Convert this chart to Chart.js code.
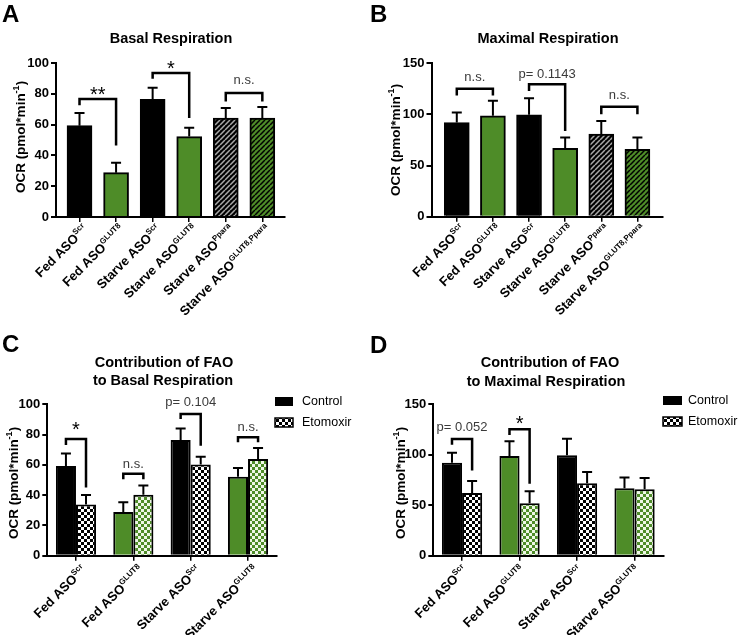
<!DOCTYPE html>
<html>
<head>
<meta charset="utf-8">
<script src="https://cdn.jsdelivr.net/npm/chart.js@4.4.0/dist/chart.umd.min.js"></script>
<style>
  body { margin: 0; background: #fff; width: 739px; height: 635px; position: relative; overflow: hidden; }
  .panel { position: absolute; }
  canvas { display: block; }
</style>
</head>
<body>
<div class="panel" style="left:0;top:0"><canvas id="cA" width="370" height="320"></canvas></div>
<div class="panel" style="left:370px;top:0"><canvas id="cB" width="369" height="320"></canvas></div>
<div class="panel" style="left:0;top:320px"><canvas id="cC" width="370" height="315"></canvas></div>
<div class="panel" style="left:370px;top:320px"><canvas id="cD" width="369" height="315"></canvas></div>
<script>
const FONT = '"Liberation Sans", Arial, sans-serif';
const GREEN = '#4e8c28';

// categories: [main text, superscript]
const sixLabels = [["Fed ASO", "Scr"], ["Fed ASO", "GLUT8"], ["Starve ASO", "Scr"],
                   ["Starve ASO", "GLUT8"], ["Starve ASO", "Ppara"], ["Starve ASO", "GLUT8,Ppara"]];
const fourLabels = sixLabels.slice(0, 4);

// means and SEM
const basalMean = [59.3, 28.8, 76.4, 52.2, 64.2, 64.2];
const basalSem  = [8.2, 6.5, 7.6, 5.8, 6.6, 7.2];
const maxMean   = [92.0, 98.7, 99.6, 66.8, 80.8, 65.8];
const maxSem    = [10.0, 14.6, 16.3, 10.6, 12.8, 11.6];
const etoBasalMean = [33.8, 40.2, 60.3, 63.8];
const etoBasalSem  = [6.3, 6.2, 5.0, 7.4];
const etoMaxMean   = [62.0, 52.0, 71.8, 65.8];
const etoMaxSem    = [12.0, 11.8, 11.1, 11.2];

// significance brackets: [left bar, right bar, top, left leg end, right leg end, text, text y]
const basalSig = [[0, 1, 76.6, 72.5, 46.5, "**", 82.7], [2, 3, 93.5, 89.8, 64.3, "*", 100],
                  [4, 5, 80.5, 75, 75, "n.s.", 89]];
const maxSig = [[0, 1, 125.2, 118.4, 118.4, "n.s.", 136], [2, 3, 129.4, 122.9, 83.8, "p= 0.1143", 139.5],
                [4, 5, 107.6, 100.1, 100.1, "n.s.", 118.4]];
// grouped panels: [group, top, control leg end, etomoxir leg end, text, text y]
const etoBasalSig = [[0, 77.1, 73.2, 45, "*", 86.4], [1, 54.1, 50.5, 50.5, "n.s.", 60],
                     [2, 93.6, 90.3, 72.7, "p= 0.104", 101.3], [3, 78.2, 74.9, 74.9, "n.s.", 84.8]];
const etoMaxSig = [[0, 115.5, 109.9, 84.5, "p= 0.052", 126.6], [1, 125.3, 119.7, 71.4, "*", 136.2]];

// fill patterns
function tile(size, draw) {
  const c = document.createElement('canvas');
  c.width = c.height = size;
  const g = c.getContext('2d');
  draw(g, size);
  return g.createPattern(c, 'repeat');
}
function hatch(bg, fg) {
  return tile(5, (g, s) => {
    g.fillStyle = bg; g.fillRect(0, 0, s, s);
    g.strokeStyle = fg; g.lineWidth = 1.5;
    g.beginPath();
    for (const o of [-s, 0, s]) { g.moveTo(o, s); g.lineTo(o + s, 0); }
    g.stroke();
  });
}
function checker(a, b) {
  return tile(6, (g, s) => {
    g.fillStyle = a; g.fillRect(0, 0, s, s);
    g.fillStyle = b; g.fillRect(0, 0, 3, 3); g.fillRect(3, 3, 3, 3);
  });
}

// text with superscripts: parts = [[text, isSup], ...]
function drawParts(ctx, parts, x, y, align, size, supSize) {
  const fonts = parts.map(p => 'bold ' + (p[1] ? supSize : size) + 'px ' + FONT);
  let total = 0;
  const ws = parts.map((p, k) => { ctx.font = fonts[k]; const w = ctx.measureText(p[0]).width; total += w; return w; });
  let cx = align === 'right' ? x - total : align === 'center' ? x - total / 2 : x;
  ctx.textAlign = 'left';
  ctx.textBaseline = 'alphabetic';
  parts.forEach((p, k) => {
    ctx.font = fonts[k];
    ctx.fillText(p[0], cx, p[1] ? y - size * 0.42 : y);
    cx += ws[k];
  });
}

function makeDecor(cfg) {
  return {
    id: 'decor',
    afterDatasetsDraw(chart) {
      const ctx = chart.ctx, y = chart.scales.y, area = chart.chartArea;
      ctx.save();
      ctx.strokeStyle = '#000';
      ctx.fillStyle = '#000';

      // error bars (upper only)
      ctx.lineWidth = 2;
      cfg.means.forEach((means, d) => {
        chart.getDatasetMeta(d).data.forEach((el, i) => {
          const top = y.getPixelForValue(means[i] + cfg.errs[d][i]);
          ctx.beginPath();
          ctx.moveTo(el.x, el.y); ctx.lineTo(el.x, top);
          ctx.moveTo(el.x - 5, top); ctx.lineTo(el.x + 5, top);
          ctx.stroke();
        });
      });

      // significance brackets
      ctx.lineWidth = 2.5;
      ctx.lineJoin = 'miter';
      cfg.sig.forEach(s => {
        const a = chart.getDatasetMeta(s.a[0]).data[s.a[1]];
        const b = chart.getDatasetMeta(s.b[0]).data[s.b[1]];
        const top = y.getPixelForValue(s.top);
        ctx.beginPath();
        ctx.moveTo(a.x, y.getPixelForValue(s.l));
        ctx.lineTo(a.x, top);
        ctx.lineTo(b.x, top);
        ctx.lineTo(b.x, y.getPixelForValue(s.r));
        ctx.stroke();
        const tx = (a.x + b.x) / 2, ty = y.getPixelForValue(s.ty);
        ctx.textAlign = 'center';
        if (s.text.indexOf('*') >= 0) {
          ctx.font = '20px ' + FONT;
          ctx.fillStyle = '#000';
          ctx.textBaseline = 'alphabetic';
          ctx.fillText(s.text, tx, ty + 20 * 0.58);
        } else {
          ctx.font = '13px ' + FONT;
          ctx.fillStyle = '#3a3a3a';
          ctx.textBaseline = 'middle';
          ctx.fillText(s.text, tx, ty);
        }
      });

      // rotated category labels
      ctx.fillStyle = '#000';
      const meta0 = chart.getDatasetMeta(0);
      cfg.labels.forEach((lab, i) => {
        const cx = cfg.grouped ? chart.scales.x.getPixelForValue(i) : meta0.data[i].x;
        ctx.save();
        ctx.translate(cx + cfg.labDx, area.bottom + cfg.labDy);
        ctx.rotate(-Math.PI / 4);
        drawParts(ctx, [[lab[0], false], [lab[1], true]], 0, 0, 'right', 13, 8);
        ctx.restore();
      });

      // y axis title
      ctx.save();
      ctx.translate(cfg.yTitle[0], cfg.yTitle[1]);
      ctx.rotate(-Math.PI / 2);
      drawParts(ctx, [["OCR (pmol*min", false], ["-1", true], [")", false]], 0, 5, 'center', 13.5, 9);
      ctx.restore();

      // panel letter and title
      ctx.font = 'bold 24px ' + FONT;
      ctx.textAlign = 'left';
      ctx.textBaseline = 'alphabetic';
      ctx.fillText(cfg.letter, cfg.letterPos[0], cfg.letterPos[1]);
      ctx.font = 'bold 14.5px ' + FONT;
      ctx.textAlign = 'center';
      ctx.textBaseline = 'middle';
      cfg.title.forEach(t => ctx.fillText(t[0], t[1], t[2]));

      // legend
      if (cfg.legend) {
        const L = cfg.legend;
        ctx.fillStyle = '#000';
        ctx.fillRect(L.x, L.y, L.w, 9);
        ctx.fillStyle = checker('#000', '#fff');
        ctx.fillRect(L.x, L.y + 21, L.w, 9);
        ctx.lineWidth = 1.5;
        ctx.strokeRect(L.x, L.y + 21, L.w, 9);
        ctx.fillStyle = '#000';
        ctx.font = '12.5px ' + FONT;
        ctx.textAlign = 'left';
        ctx.textBaseline = 'middle';
        ctx.fillText('Control', L.tx, L.y + 4.5);
        ctx.fillText('Etomoxir', L.tx, L.y + 25.5);
      }
      ctx.restore();
    }
  };
}

function yScale(max, step) {
  return {
    min: 0, max: max,
    ticks: { stepSize: step, color: '#000', padding: 2, font: { family: FONT, size: 13, weight: 'bold' } },
    grid: { drawOnChartArea: false, drawTicks: true, tickLength: 5, color: '#000', lineWidth: 2 },
    border: { color: '#000', width: 2 },
    afterFit: s => { s.width = 40; }
  };
}
const xGrid = { drawOnChartArea: false, drawTicks: true, tickLength: 5, color: '#000', lineWidth: 1.5, offset: false };

function sixPanel(id, means, sems, sig, xmin, xmax, pad, yMax, yStep, extra) {
  const bg = ['#000', GREEN, '#000', GREEN, hatch('#000', '#a8a8a8'), hatch(GREEN, '#000')];
  new Chart(document.getElementById(id), {
    type: 'bar',
    data: {
      datasets: [{
        data: means.map((v, i) => ({ x: i, y: v })),
        backgroundColor: bg,
        borderColor: '#000',
        borderWidth: 2,
        barThickness: 25
      }]
    },
    options: {
      responsive: false, animation: false,
      layout: { padding: pad },
      plugins: { legend: { display: false }, tooltip: { enabled: false } },
      scales: {
        x: {
          type: 'linear', min: xmin, max: xmax, offset: false,
          afterBuildTicks: s => { s.ticks = means.map((v, i) => ({ value: i })); },
          ticks: { display: false },
          grid: xGrid,
          border: { color: '#000', width: 2 },
          afterFit: s => { s.height = 5; }
        },
        y: yScale(yMax, yStep)
      }
    },
    plugins: [makeDecor(Object.assign({
      means: [means], errs: [sems], labels: sixLabels, grouped: false,
      sig: sig.map(s => ({ a: [0, s[0]], b: [0, s[1]], top: s[2], l: s[3], r: s[4], text: s[5], ty: s[6] }))
    }, extra))]
  });
}

function fourPanel(id, ctrlMean, ctrlSem, etoMean, etoSem, sig, pad, yMax, yStep, extra) {
  new Chart(document.getElementById(id), {
    type: 'bar',
    data: {
      labels: fourLabels.map(l => l[0] + l[1]),
      datasets: [{
        label: 'Control',
        data: ctrlMean,
        backgroundColor: ['#000', GREEN, '#000', GREEN],
        borderColor: '#000', borderWidth: 2,
        categoryPercentage: 0.7, barPercentage: 1
      }, {
        label: 'Etomoxir',
        data: etoMean,
        backgroundColor: [checker('#000', '#fff'), checker(GREEN, '#eef7e6'), checker('#000', '#fff'), checker(GREEN, '#eef7e6')],
        borderColor: '#000', borderWidth: 2,
        categoryPercentage: 0.7, barPercentage: 1
      }]
    },
    options: {
      responsive: false, animation: false,
      layout: { padding: pad },
      plugins: { legend: { display: false }, tooltip: { enabled: false } },
      scales: {
        x: {
          ticks: { display: false },
          grid: xGrid,
          border: { color: '#000', width: 2 },
          afterFit: s => { s.height = 5; }
        },
        y: yScale(yMax, yStep)
      }
    },
    plugins: [makeDecor(Object.assign({
      means: [ctrlMean, etoMean], errs: [ctrlSem, etoSem], labels: fourLabels, grouped: true,
      sig: sig.map(s => ({ a: [0, s[0]], b: [1, s[0]], top: s[1], l: s[2], r: s[3], text: s[4], ty: s[5] }))
    }, extra))]
  });
}

sixPanel('cA', basalMean, basalSem, basalSig, -0.643, 5.62,
  { left: 16, right: 85, top: 63, bottom: 98 }, 100, 20,
  { letter: 'A', letterPos: [2, 22], title: [['Basal Respiration', 171, 39]],
    yTitle: [20, 137], labDx: 9, labDy: 13 });

sixPanel('cB', maxMean, maxSem, maxSig, -0.70, 5.70,
  { left: 21.5, right: 76.3, top: 63.3, bottom: 98.3 }, 150, 50,
  { letter: 'B', letterPos: [0, 22], title: [['Maximal Respiration', 178, 39]],
    yTitle: [25, 140], labDx: 9, labDy: 13 });

fourPanel('cC', basalMean.slice(0, 4), basalSem.slice(0, 4), etoBasalMean, etoBasalSem, etoBasalSig,
  { left: 7.3, right: 93.3, top: 84.3, bottom: 74.3 }, 100, 20,
  { letter: 'C', letterPos: [2, 32], title: [['Contribution of FAO', 164, 43], ['to Basal Respiration', 163, 61]],
    yTitle: [13, 163], labDx: 11, labDy: 15, legend: { x: 275, y: 77, w: 18, tx: 302 } });

fourPanel('cD', maxMean.slice(0, 4), maxSem.slice(0, 4), etoMaxMean, etoMaxSem, etoMaxSig,
  { left: 23.3, right: 75.7, top: 84.3, bottom: 74.3 }, 150, 50,
  { letter: 'D', letterPos: [0, 33], title: [['Contribution of FAO', 180, 43], ['to Maximal Respiration', 176, 62]],
    yTitle: [30, 163], labDx: 6, labDy: 15, legend: { x: 293, y: 76, w: 19, tx: 318 } });
</script>
</body>
</html>
